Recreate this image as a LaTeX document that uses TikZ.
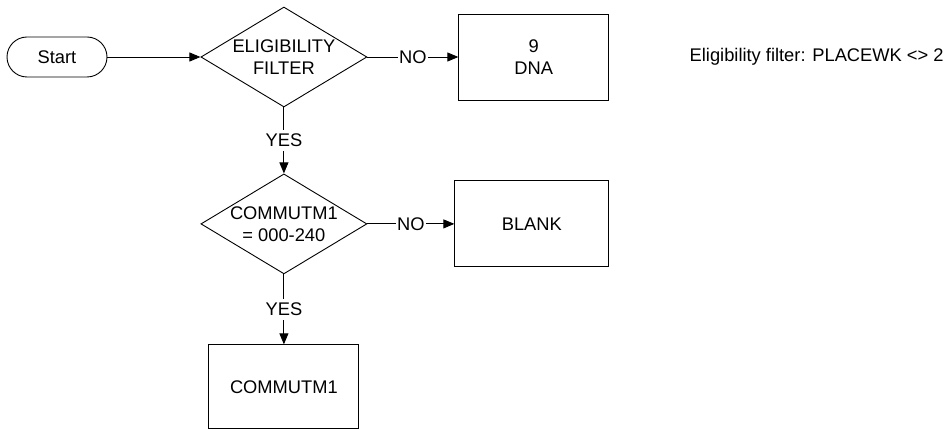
\documentclass[tikz,border=0pt]{standalone}
\usepackage{fontspec}
\setmainfont{Liberation Sans}
\usetikzlibrary{shapes.geometric, arrows.meta, positioning}

\begin{document}
\begin{tikzpicture}[x=1pt, y=1pt, >={Triangle[length=11pt,width=9pt]}, line width=0.9pt, node distance=66pt,
  every node/.style={font=\fontsize{18.3}{22}\selectfont},
  startstop/.style={draw, rectangle, rounded corners=20pt, minimum width=100pt, minimum height=40pt},
  decision/.style={draw, diamond, minimum width=166pt, minimum height=100pt, inner sep=0pt},
  process/.style={draw, rectangle, minimum width=150pt, minimum height=86pt, align=center},
  lbl/.style={fill=white, inner xsep=1pt, inner ysep=4pt}]

  \useasboundingbox (0,0) rectangle (944,-430);

  \node[startstop] (start) at (57,-57) {Start};
  \node[decision, label={[align=center]center:ELIGIBILITY\\FILTER}] (elig) [right=93pt of start] {};
  \node[process] (dna) [right=91pt of elig] {9\\DNA};
  \node[inner sep=0pt] (note) [right=80pt of dna] {Eligibility filter: PLACEWK <> 2};

  \node[decision, label={[align=center]center:COMMUTM1\\= 000-240}] (range) [below=66pt of elig] {};
  \node[process, minimum width=154pt] (blank) [right=87pt of range] {BLANK};
  \node[process, minimum height=84pt] (commutm) [below=70pt of range] {COMMUTM1};

  \path[->]
  (start) edge (elig)
  (elig) edge node[lbl] {NO} (dna)
  (elig) edge node[lbl] {YES} (range)

  (range) edge node[lbl] {NO} (blank)
  (range) edge node[lbl] {YES} (commutm)
  ;
\end{tikzpicture}
\end{document}
